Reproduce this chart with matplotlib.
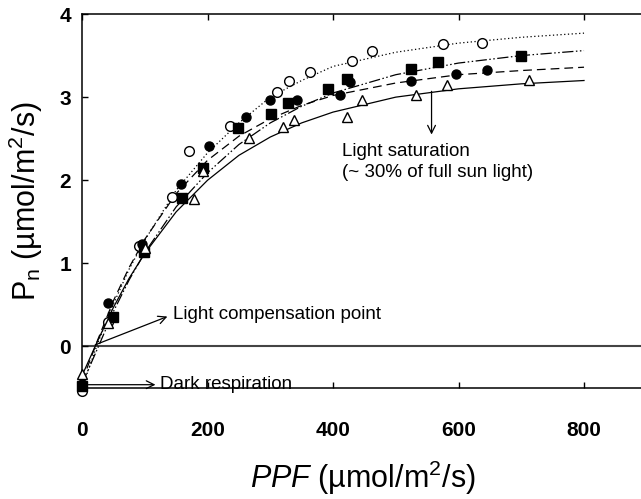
import matplotlib
matplotlib.use("Agg")
import matplotlib.pyplot as plt

plt.rcParams['font.family'] = ['Liberation Sans', 'DejaVu Sans']
plt.rcParams['mathtext.fontset'] = 'custom'
plt.rcParams['mathtext.rm'] = 'Liberation Sans'
plt.rcParams['mathtext.it'] = 'Liberation Sans:italic'

# measured points (PPF, Pn)
ppf_a = [0, 42, 90, 143, 171, 236, 311, 330, 363, 430, 462, 575, 637]
pn_a = [-0.53, 0.30, 1.21, 1.80, 2.35, 2.65, 3.06, 3.19, 3.30, 3.43, 3.55, 3.64, 3.65]

ppf_b = [0, 49, 99, 160, 193, 249, 301, 329, 392, 422, 524, 568, 699]
pn_b = [-0.47, 0.35, 1.14, 1.79, 2.15, 2.63, 2.80, 2.93, 3.10, 3.22, 3.34, 3.42, 3.49]

ppf_c = [0, 42, 95, 158, 202, 261, 300, 342, 411, 427, 525, 596, 646]
pn_c = [-0.45, 0.52, 1.23, 1.96, 2.41, 2.76, 2.96, 2.97, 3.03, 3.18, 3.20, 3.28, 3.33]

ppf_d = [0, 42, 100, 178, 193, 266, 321, 337, 422, 446, 532, 582, 713]
pn_d = [-0.33, 0.28, 1.19, 1.78, 2.11, 2.51, 2.64, 2.73, 2.76, 2.96, 3.02, 3.14, 3.21]

# fitted curves
curve_x = [0, 25, 50, 75, 100, 150, 200, 250, 300, 350, 400, 500, 600, 700, 800]
curve_a = [-0.50, 0.04, 0.51, 0.93, 1.28, 1.88, 2.33, 2.69, 3.00, 3.20, 3.37, 3.54, 3.65, 3.72, 3.77]
curve_b = [-0.45, -0.02, 0.42, 0.80, 1.13, 1.68, 2.09, 2.43, 2.69, 2.89, 3.05, 3.27, 3.41, 3.50, 3.56]
curve_c = [-0.42, 0.08, 0.55, 0.95, 1.29, 1.84, 2.24, 2.53, 2.74, 2.90, 3.02, 3.17, 3.27, 3.32, 3.36]
curve_d = [-0.35, 0.07, 0.47, 0.82, 1.12, 1.62, 2.00, 2.30, 2.52, 2.69, 2.82, 3.00, 3.10, 3.16, 3.20]

xticks = [0, 200, 400, 600, 800]
yticks = [0, 1, 2, 3, 4]

fig = plt.figure(figsize=(6.41, 4.99), dpi=100)
ax = fig.add_axes([0.128, 0.2224, 0.881, 0.7495])

lw = 0.9
ax.axhline(0, color='#444444', lw=1.5, zorder=1)

ax.plot(curve_x, curve_a, color='black', lw=lw, ls=(0, (1, 2)))
ax.plot(curve_x, curve_b, color='black', lw=lw, ls=(0, (9, 2, 1.2, 2, 1.2, 2)))
ax.plot(curve_x, curve_c, color='black', lw=lw, ls=(0, (7, 4)))
ax.plot(curve_x, curve_d, color='black', lw=lw, ls='-')

ax.plot(ppf_a, pn_a, 'o', ms=7, mfc='white', mec='black', mew=1, zorder=5, clip_on=False)
ax.plot(ppf_b, pn_b, 's', ms=7, mfc='black', mec='black', zorder=5, clip_on=False)
ax.plot(ppf_c, pn_c, 'o', ms=6.5, mfc='black', mec='black', zorder=5, clip_on=False)
ax.plot(ppf_d, pn_d, '^', ms=7.5, mfc='white', mec='black', mew=1, zorder=5, clip_on=False)

ax.set_xlim(0, 900)
ax.set_ylim(-0.5, 4)
ax.set_xticks(xticks)
ax.set_yticks(yticks)
ax.tick_params(direction='in', length=4, width=1, top=True, right=True,
               labelsize=15)
ax.tick_params(axis='x', pad=24)
ax.tick_params(axis='y', pad=8)
for t in ax.get_xticklabels() + ax.get_yticklabels():
    t.set_fontweight('bold')
for s in ax.spines.values():
    s.set_linewidth(1.1)

ax.set_xlabel('$PPF$ (µmol/m$^2$/s)', fontsize=22)
ax.set_ylabel('P$_\\mathrm{n}$ (µmol/m$^2$/s)', fontsize=22)
ax.xaxis.set_label_coords(0.498, -0.19)
ax.yaxis.set_label_coords(-0.066, 0.5)

arrow = dict(arrowstyle='->', color='black', lw=0.9, shrinkA=0, shrinkB=0,
             mutation_scale=14)
ax.annotate('', xy=(557, 2.55), xytext=(557, 3.07), arrowprops=arrow)
ax.text(415, 2.22, 'Light saturation\n(~ 30% of full sun light)', fontsize=13.5,
        va='center', ha='left', linespacing=1.25)
ax.annotate('', xy=(136, 0.36), xytext=(21, 0.02), arrowprops=arrow)
ax.text(145, 0.38, 'Light compensation point', fontsize=13.5, va='center')
ax.annotate('', xy=(117, -0.46), xytext=(10, -0.46), arrowprops=arrow)
ax.text(124, -0.46, 'Dark respiration', fontsize=13.5, va='center')

fig.savefig('out.png', dpi=100)
